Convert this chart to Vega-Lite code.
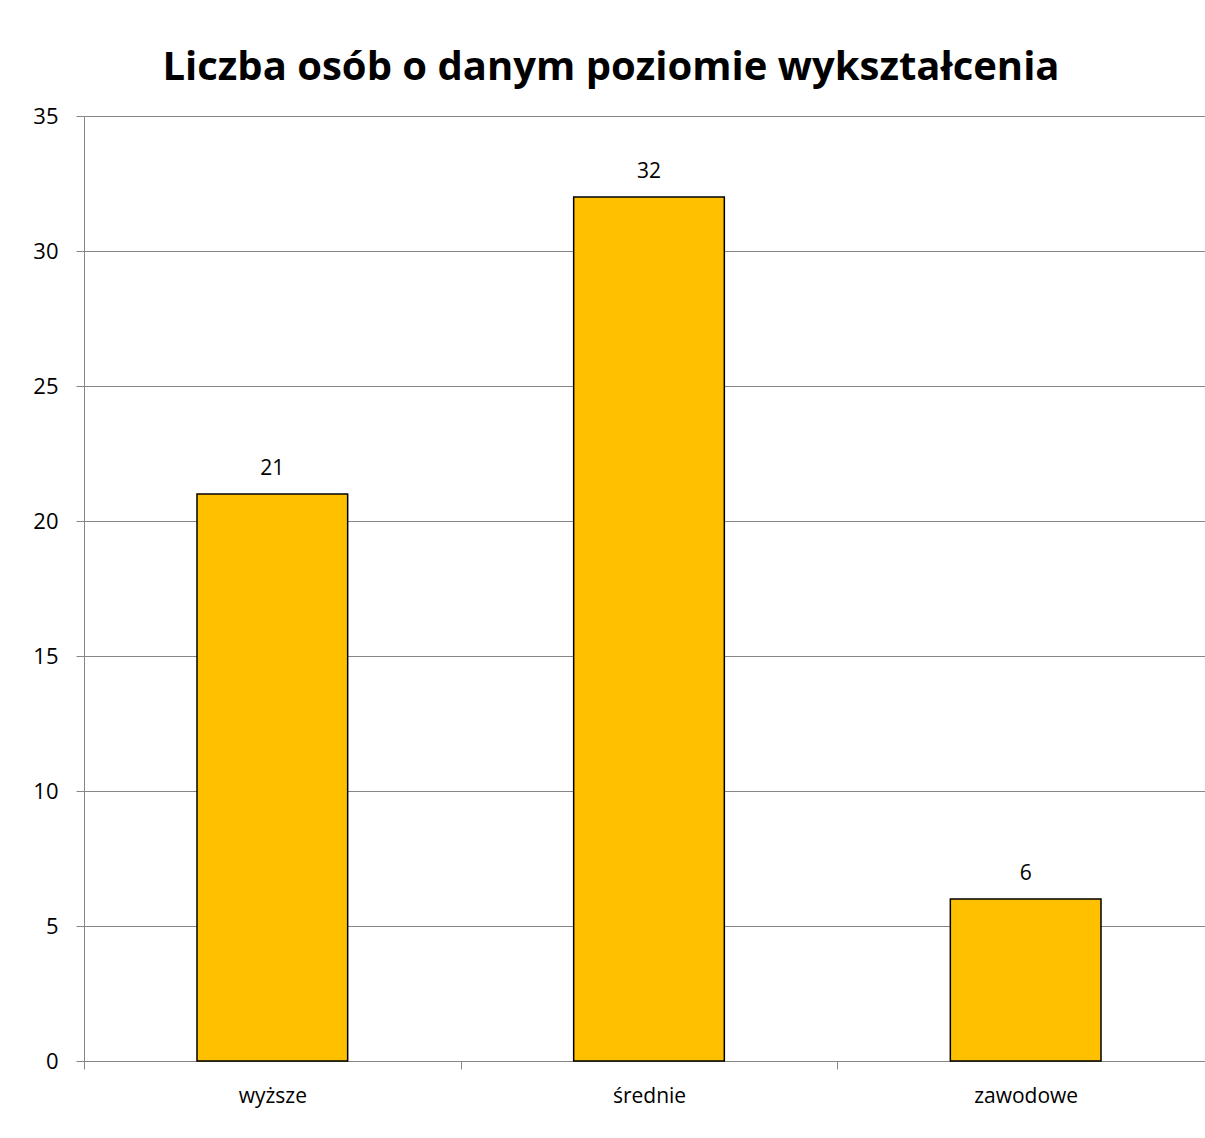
{
  "$schema": "https://vega.github.io/schema/vega-lite/v6.json",
  "autosize": "none",
  "width": 1130,
  "height": 945,
  "padding": {"left": 84, "top": 116, "right": 0, "bottom": 77},
  "background": "white",
  "title": {
    "text": "Liczba osób o danym poziomie wykształcenia",
    "font": "Open Sans",
    "fontSize": 40,
    "fontWeight": "bold",
    "color": "black",
    "anchor": "middle",
    "baseline": "alphabetic",
    "offset": -15,
    "dx": -38
  },
  "data": {
    "values": [
      {"poziom": "wyższe", "liczba": 21},
      {"poziom": "średnie", "liczba": 32},
      {"poziom": "zawodowe", "liczba": 6}
    ]
  },
  "encoding": {
    "x": {
      "field": "poziom",
      "type": "nominal",
      "sort": null,
      "scale": {"paddingInner": 0, "paddingOuter": 0},
      "axis": {
        "title": null,
        "labelAngle": 0,
        "labelFont": "Open Sans",
        "labelFontSize": 21,
        "labelColor": "black",
        "labelPadding": 16,
        "tickBand": "extent",
        "tickSize": 8,
        "tickColor": "#868686",
        "domainColor": "#868686",
        "grid": false
      }
    },
    "y": {
      "field": "liczba",
      "type": "quantitative",
      "scale": {"domain": [0, 35], "nice": false},
      "axis": {
        "title": null,
        "values": [0, 5, 10, 15, 20, 25, 30, 35],
        "labelFont": "Open Sans",
        "labelFontSize": 22,
        "labelColor": "black",
        "labelPadding": 18,
        "tickSize": 8,
        "tickColor": "#868686",
        "domainColor": "#868686",
        "gridColor": "#868686",
        "gridOpacity": 1
      }
    }
  },
  "layer": [
    {
      "mark": {"type": "bar", "color": "#FFC000", "stroke": "black", "strokeWidth": 1.5, "width": {"band": 0.4}}
    },
    {
      "mark": {"type": "text", "font": "Open Sans", "fontSize": 21, "color": "black", "baseline": "alphabetic", "dy": -19},
      "encoding": {"text": {"field": "liczba", "type": "quantitative"}}
    }
  ],
  "config": {"view": {"stroke": null}}
}
